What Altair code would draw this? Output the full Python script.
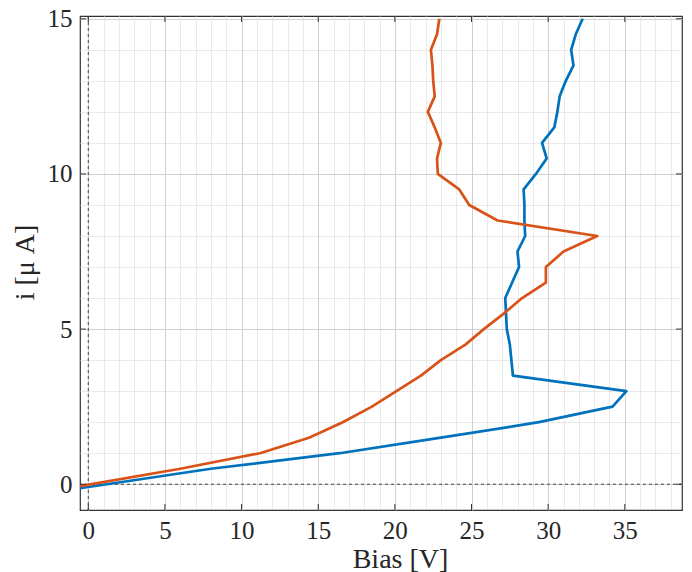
import altair as alt
import pandas as pd

# ---- data ----
blue_current = [-0.13, 0.5, 1.0, 1.5, 2.0, 2.5, 3.0, 3.5, 4.0, 4.5, 5.0, 5.5, 6.0, 6.5,
                7.0, 7.5, 8.0, 8.5, 9.0, 9.5, 10.0, 10.5, 11.0, 11.5, 12.0, 12.5, 13.0,
                13.5, 14.0, 14.5, 15.0]
blue_bias = [-0.54, 8.0, 16.4, 23.0, 29.4, 34.2, 35.1, 27.7, 27.6, 27.5, 27.3, 27.25, 27.2,
             27.65, 28.1, 28.0, 28.5, 28.45, 28.45, 28.4, 29.2, 29.9, 29.6, 30.4, 30.6,
             30.75, 31.15, 31.65, 31.5, 31.8, 32.25]

orange_current = [-0.06, 0.5, 1.0, 1.5, 2.0, 2.5, 3.0, 3.5, 4.0, 4.5, 5.0, 5.5, 6.0, 6.5,
                  7.0, 7.5, 8.0, 8.5, 9.0, 9.5, 10.0, 10.5, 11.0, 11.5, 12.0, 12.5, 13.0,
                  13.5, 14.0, 14.5, 15.0]
orange_bias = [-0.54, 6.0, 11.2, 14.4, 16.6, 18.5, 20.1, 21.7, 23.0, 24.6, 25.8, 27.1, 28.3,
               29.85, 29.85, 31.0, 33.2, 26.7, 24.85, 24.2, 22.8, 22.75, 23.0, 22.6, 22.15,
               22.6, 22.5, 22.45, 22.35, 22.75, 22.9]

x_ticks = [0, 5, 10, 15, 20, 25, 30, 35]
y_ticks = [0, 5, 10, 15]
x_minor = list(range(0, 39))
y_minor = list(range(0, 16))

series_names = ["blue", "orange"]
series_colors = ["#0072BD", "#D95319"]

# ---- tables ----
rows = []
for name, cur, bias in [("blue", blue_current, blue_bias), ("orange", orange_current, orange_bias)]:
    for k, (c, b) in enumerate(zip(cur, bias)):
        rows.append({"series": name, "current": c, "bias": b, "idx": k})
df = pd.DataFrame(rows)

W, H = 602, 494
FONT = "Liberation Serif"
TXT = "#262626"

major = "datum.value % 5 === 0"

def make_axis(values, **kw):
    return alt.Axis(
        values=values,
        labelExpr="datum.value % 5 === 0 ? datum.label : ''",
        format="d",
        labelOverlap=False,
        labelFlush=False,
        grid=True,
        gridColor={"condition": {"test": major, "value": "#d0d0d0"}, "value": "#d4d4d4"},
        gridDash={"condition": {"test": major, "value": []}, "value": [1, 1]},
        gridWidth=1,
        ticks=False,
        domain=False,
        labelFont=FONT, labelFontSize=25, labelColor=TXT, labelFontWeight="normal",
        titleFont=FONT, titleFontSize=28, titleFontWeight="normal", titleColor=TXT,
        titleBaseline="alphabetic", titleAlign="center",
        **kw,
    )

x_axis = make_axis(x_minor, labelBaseline="alphabetic", labelPadding=28,
                   title="Bias [V]", titleX=320, titleY=57)
y_axis = make_axis(y_minor, labelPadding=8,
                   title="i [μ A]", titleX=-47, titleY=246, titleAngle=-90)

X = alt.X("bias:Q", scale=alt.Scale(domain=[-0.54, 38.73], nice=False, zero=False), axis=x_axis)
Y = alt.Y("current:Q", scale=alt.Scale(domain=[-0.83, 15.09], nice=False, zero=False), axis=y_axis)

lines = alt.Chart(df).mark_line(strokeWidth=2.7, strokeJoin="round").encode(
    x=X, y=Y,
    color=alt.Color("series:N", scale=alt.Scale(domain=series_names, range=series_colors), legend=None),
    order=alt.Order("idx:Q"),
)

zero_v = alt.Chart(pd.DataFrame({"bias": [0]})).mark_rule(
    color="#444", strokeWidth=1, strokeDash=[3, 3]).encode(x=X)
zero_h = alt.Chart(pd.DataFrame({"current": [0]})).mark_rule(
    color="#444", strokeWidth=1, strokeDash=[3, 3]).encode(y=Y)

xt = pd.DataFrame({"bias": x_ticks})
yt = pd.DataFrame({"current": y_ticks})
tick_style = dict(color="#333", strokeWidth=1)
tick_b = alt.Chart(xt).mark_rule(**tick_style).encode(x=X, y=alt.value(H), y2=alt.value(H - 6))
tick_t = alt.Chart(xt).mark_rule(**tick_style).encode(x=X, y=alt.value(0), y2=alt.value(6))
tick_l = alt.Chart(yt).mark_rule(**tick_style).encode(y=Y, x=alt.value(0), x2=alt.value(6))
tick_r = alt.Chart(yt).mark_rule(**tick_style).encode(y=Y, x=alt.value(W), x2=alt.value(W - 6))

chart = alt.layer(zero_v, zero_h, lines, tick_b, tick_t, tick_l, tick_r).properties(
    width=W, height=H,
    autosize=alt.AutoSizeParams(type="none"),
    padding={"left": 80, "top": 16, "right": 10, "bottom": 62},
    background="white",
).configure_view(stroke="#333", strokeWidth=1.2)

chart.save("out.html", embed_options={"renderer": "svg", "actions": False})
